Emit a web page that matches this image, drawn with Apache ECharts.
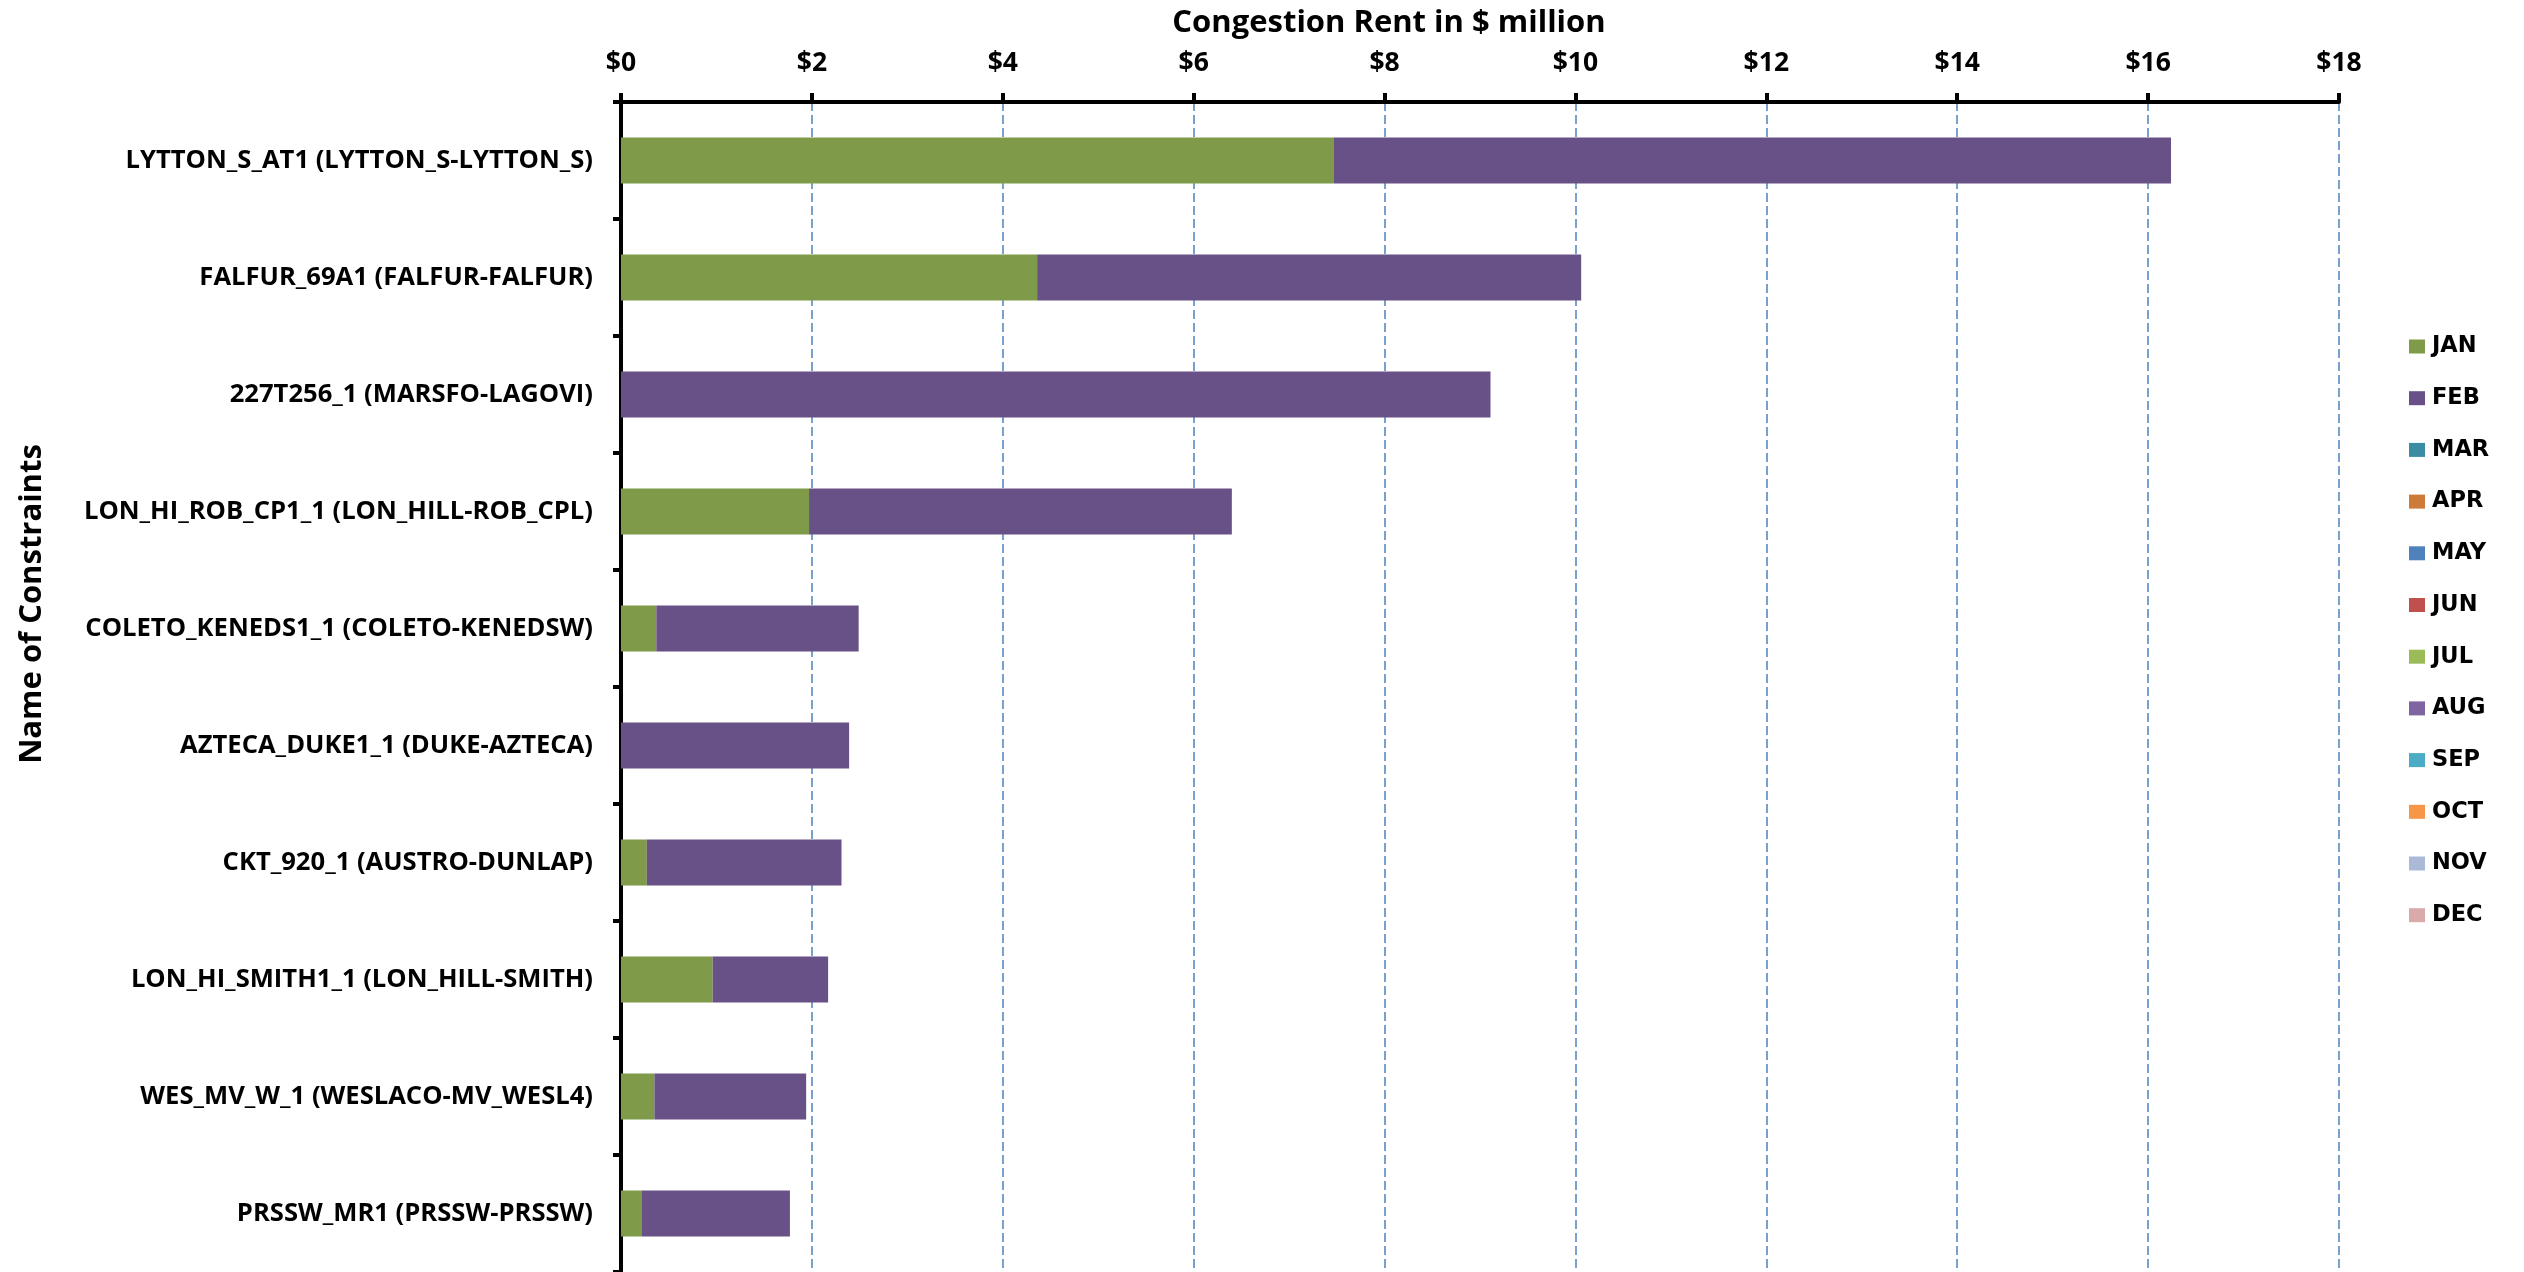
<!DOCTYPE html>
<html><head><meta charset="utf-8">
<script src="https://cdn.jsdelivr.net/npm/echarts@6/dist/echarts.min.js"></script>
<style>html,body{margin:0;padding:0;background:#fff}#c{width:2524px;height:1272px}</style>
</head><body><div id="c"></div>
<script>
const categories = [
  'LYTTON_S_AT1 (LYTTON_S-LYTTON_S)',
  'FALFUR_69A1 (FALFUR-FALFUR)',
  '227T256_1 (MARSFO-LAGOVI)',
  'LON_HI_ROB_CP1_1 (LON_HILL-ROB_CPL)',
  'COLETO_KENEDS1_1 (COLETO-KENEDSW)',
  'AZTECA_DUKE1_1 (DUKE-AZTECA)',
  'CKT_920_1 (AUSTRO-DUNLAP)',
  'LON_HI_SMITH1_1 (LON_HILL-SMITH)',
  'WES_MV_W_1 (WESLACO-MV_WESL4)',
  'PRSSW_MR1 (PRSSW-PRSSW)'
];
const months = ['JAN','FEB','MAR','APR','MAY','JUN','JUL','AUG','SEP','OCT','NOV','DEC'];
const monthColors = ['#7F9A48','#685186','#3C8DA3','#CC7B38','#4F81BD','#C0504D','#9BBB59','#8064A2','#4BACC6','#F79646','#AAB9D7','#DAAAAA'];
const jan = [7.47, 4.36, 0, 1.97, 0.37, 0, 0.27, 0.96, 0.35, 0.22];
const feb = [8.77, 5.70, 9.11, 4.43, 2.12, 2.39, 2.04, 1.21, 1.59, 1.55];
// MAR-DEC: no data in this chart
const emptyMonth = [];
const xTickLabels = ['$0','$2','$4','$6','$8','$10','$12','$14','$16','$18'];

const monthData = [jan, feb].concat(months.slice(2).map(() => emptyMonth));

const chart = echarts.init(document.getElementById('c'), null, {renderer: 'canvas'});
chart.setOption({
  animation: false,
  backgroundColor: '#fff',
  title: {
    text: 'Congestion Rent in $ million',
    left: 1384, top: 3, textAlign: 'center',
    textStyle: {fontFamily: '"Open Sans"', fontWeight: 'bold', fontSize: 31, color: '#000'}
  },
  graphic: [{
    type: 'text', x: 32, y: 604, rotation: Math.PI / 2,
    style: {text: 'Name of Constraints', font: 'bold 31px "Open Sans"', textAlign: 'center', textVerticalAlign: 'middle', fill: '#000'}
  }],
  legend: {
    orient: 'vertical', left: 2409, top: 335, padding: 0,
    itemWidth: 16, itemHeight: 14, itemGap: 28.7, icon: 'rect',
    data: months,
    textStyle: {fontFamily: '"DejaVu Sans"', fontWeight: 'bold', fontSize: 22.5, color: '#000', lineHeight: 22, padding: [0,0,0,2]}
  },
  grid: {left: 621, right: 185, top: 102, bottom: 0, containLabel: false},
  xAxis: {
    type: 'value', position: 'top', min: 0, max: 18, interval: 2,
    axisLine: {show: true, lineStyle: {color: '#000', width: 4}},
    axisTick: {show: true, length: 9, lineStyle: {color: '#000', width: 4}},
    axisLabel: {margin: 25, color: '#000', fontFamily: '"Open Sans"', fontWeight: 'bold', fontSize: 26.5,
      formatter: v => xTickLabels[Math.round(v / 2)]},
    splitLine: {show: true, lineStyle: {color: '#4F81BD', width: 1.5, type: [9, 4]}}
  },
  yAxis: {
    type: 'category', inverse: true, data: categories,
    axisLine: {show: true, lineStyle: {color: '#000', width: 4}},
    axisTick: {show: true, length: 8, lineStyle: {color: '#000', width: 4}},
    axisLabel: {margin: 28, color: '#000', fontFamily: '"Open Sans"', fontWeight: 'bold', fontSize: 25.6},
    splitLine: {show: false}
  },
  series: months.map((m, i) => ({
    name: m, type: 'bar', stack: 'total', barWidth: 46,
    itemStyle: {color: monthColors[i]},
    data: monthData[i]
  }))
});
</script></body></html>
